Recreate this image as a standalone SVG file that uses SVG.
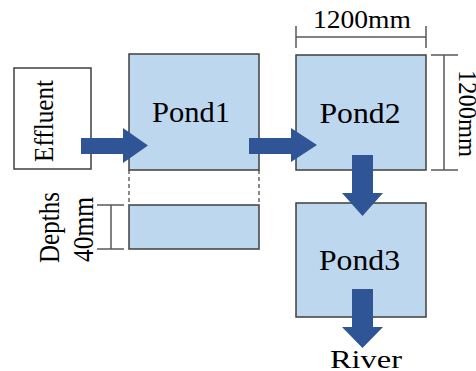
<svg xmlns="http://www.w3.org/2000/svg" width="476" height="371" viewBox="0 0 476 371">
<style>
.pond{fill:#BDD7EE;stroke:#3F3F3F;stroke-width:1.5}
.box{fill:#FFFFFF;stroke:#3F3F3F;stroke-width:1.5}
.dim{stroke:#595959;stroke-width:1.5;fill:none}
.dash{stroke:#3F3F3F;stroke-width:1.2;stroke-dasharray:4 3;fill:none}
.arrow{fill:#2F5597;stroke:none}
text{font-family:"Liberation Serif","Times New Roman",serif;fill:#000000}
.lbl{font-size:30px;text-anchor:middle}
.small{font-size:25px;text-anchor:middle}
</style>
<rect width="476" height="371" fill="#FFFFFF"/>
<g id="effluent">
<rect class="box" x="14" y="68" width="77" height="101"/>
<text class="small" transform="translate(53,121) scale(1.1,1) rotate(-90)" x="0" y="0" textLength="82" lengthAdjust="spacingAndGlyphs">Effluent</text>
</g>
<g id="pond1">
<rect class="pond" x="129" y="54" width="130" height="116"/>
<text class="lbl" x="191" y="122" textLength="78" lengthAdjust="spacingAndGlyphs">Pond1</text>
</g>
<g id="pond1-section">
<line class="dash" x1="129" y1="170" x2="129" y2="205"/>
<line class="dash" x1="259" y1="170" x2="259" y2="205"/>
<rect class="pond" x="129" y="205" width="130" height="44"/>
</g>
<g id="depth-dimension">
<line class="dim" x1="111" y1="205" x2="111" y2="249"/>
<line class="dim" x1="97" y1="205" x2="124" y2="205"/>
<line class="dim" x1="97" y1="249" x2="124" y2="249"/>
<text class="small" transform="translate(59,227.5) scale(1.2,1) rotate(-90)" textLength="71" lengthAdjust="spacingAndGlyphs">Depths</text>
<text class="small" transform="translate(93,229.5) scale(1.18,1) rotate(-90)" textLength="65" lengthAdjust="spacingAndGlyphs">40mm</text>
</g>
<g id="pond2">
<rect class="pond" x="296" y="55" width="130" height="115"/>
<text class="lbl" x="360" y="123" textLength="81" lengthAdjust="spacingAndGlyphs">Pond2</text>
</g>
<g id="width-dimension">
<line class="dim" x1="296" y1="37" x2="426" y2="37"/>
<line class="dim" x1="296" y1="26" x2="296" y2="48"/>
<line class="dim" x1="426" y1="26" x2="426" y2="48"/>
<text class="small" x="362" y="28" font-size="24" textLength="98" lengthAdjust="spacingAndGlyphs">1200mm</text>
</g>
<g id="length-dimension">
<line class="dim" x1="444" y1="55" x2="444" y2="170"/>
<line class="dim" x1="431" y1="55" x2="458" y2="55"/>
<line class="dim" x1="431" y1="170" x2="458" y2="170"/>
<text class="small" transform="translate(459,113.5) rotate(90)" font-size="24" textLength="87" lengthAdjust="spacingAndGlyphs">1200mm</text>
</g>
<g id="pond3">
<rect class="pond" x="296" y="203" width="130" height="114"/>
<text class="lbl" x="359.5" y="270" textLength="81" lengthAdjust="spacingAndGlyphs">Pond3</text>
</g>
<g id="river">
<text class="small" x="366" y="368" font-size="26" textLength="72" lengthAdjust="spacingAndGlyphs">River</text>
</g>
<g id="connectors">
<path class="arrow" d="M81,138 H123 V128 L148,145.5 L123,163 V154 H81 Z"/>
<path class="arrow" d="M249,138 H291 V128 L317,145 L291,162 V154 H249 Z"/>
<path class="arrow" d="M352,155 H373 V193 H383 L362.5,216 L342,193 H352 Z"/>
<path class="arrow" d="M352,289 H373 V327 H383 L362.5,348 L342,327 H352 Z"/>
</g>
</svg>
